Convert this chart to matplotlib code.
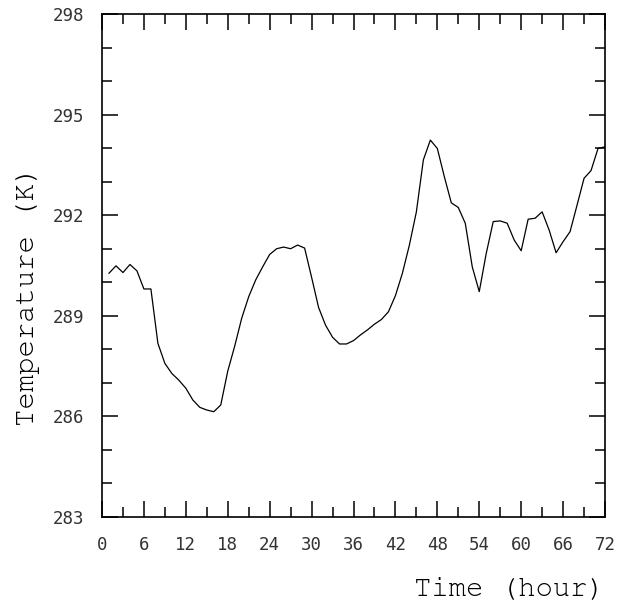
import numpy as np
import matplotlib
matplotlib.use('Agg')
import matplotlib.pyplot as plt
from matplotlib.ticker import MultipleLocator

# hourly temperature, hours 1..72
hours = list(range(1, 73))
temps = [290.27, 290.49, 290.29, 290.53, 290.34, 289.80, 289.80, 288.18, 287.58, 287.28,
         287.08, 286.84, 286.49, 286.27, 286.19, 286.14, 286.34, 287.35, 288.10, 288.93,
         289.57, 290.07, 290.46, 290.83, 291.00, 291.05, 291.00, 291.11, 291.02, 290.15,
         289.25, 288.72, 288.36, 288.16, 288.16, 288.26, 288.43, 288.58, 288.75, 288.89,
         289.12, 289.60, 290.27, 291.11, 292.10, 293.65, 294.24, 293.99, 293.15, 292.37,
         292.23, 291.76, 290.46, 289.72, 290.86, 291.81, 291.83, 291.76, 291.26, 290.94,
         291.88, 291.91, 292.10, 291.56, 290.88, 291.21, 291.51, 292.30, 293.10, 293.33,
         293.99, 294.04]

xticks = list(range(0, 73, 6))
yticks = list(range(283, 299, 3))

MONO = 'DejaVu Sans Mono'
TITLE_FONT = ['Nimbus Mono PS', 'Courier New', 'FreeMono', 'DejaVu Serif']


def main():
    fig = plt.figure(figsize=(6.23, 6.15), dpi=100)
    ax = fig.add_axes([102 / 623, 1 - 517 / 615, 503 / 623, 503 / 615])

    ax.plot(hours, temps, color='black', lw=0.9)

    ax.set_xlim(0, 72)
    ax.set_ylim(283, 298)
    ax.set_xticks(xticks)
    ax.set_yticks(yticks)
    ax.xaxis.set_minor_locator(MultipleLocator(3))
    ax.yaxis.set_minor_locator(MultipleLocator(1))

    ax.tick_params(which='both', direction='in', top=True, right=True, width=1.1,
                   colors='black')
    ax.tick_params(which='major', length=11.5)
    ax.tick_params(which='minor', length=7)
    ax.tick_params(axis='x', which='major', pad=14)
    ax.tick_params(axis='y', which='major', pad=13)

    for lab in ax.get_xticklabels() + ax.get_yticklabels():
        lab.set_fontfamily(MONO)
        lab.set_fontsize(12.5)
        lab.set_color('#333333')

    for sp in ax.spines.values():
        sp.set_linewidth(1.2)

    ax.text(1.0, -0.145, 'Time (hour)', transform=ax.transAxes, ha='right', va='center',
            fontsize=20.8, family=TITLE_FONT, color='black')
    ax.text(-0.147, 0.44, 'Temperature (K)', transform=ax.transAxes, ha='center',
            va='center', rotation=90, fontsize=20.8, family=TITLE_FONT, color='black')

    fig.savefig('out.png', dpi=100)


if __name__ == '__main__':
    main()
